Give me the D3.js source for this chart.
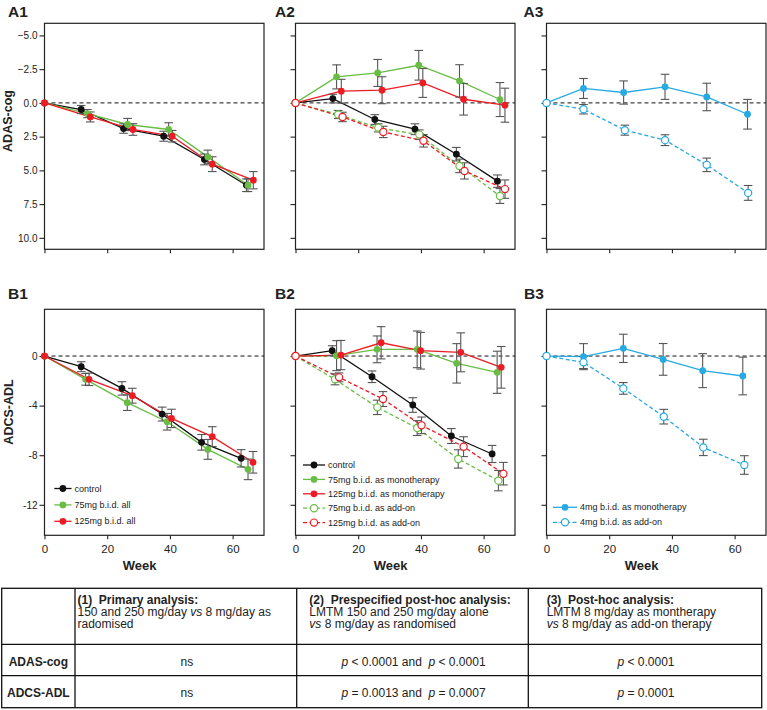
<!DOCTYPE html>
<html><head><meta charset="utf-8">
<script src="https://cdn.jsdelivr.net/npm/d3@7"></script>
<style>body{margin:0;background:#fff;} svg{display:block;font-family:"Liberation Sans",Arial,sans-serif;} text{white-space:pre;}</style>
</head><body><svg id="c" width="767" height="710"></svg>
<script>
// ---------- DATA: [week, mean change, error] ----------
const weekTicks = [0, 20, 40, 60];
const weekTickLabels = ["0", "20", "40", "60"];
const adasTicks = [-5, -2.5, 0, 2.5, 5, 7.5, 10];
const adasTickLabels = ["\u22125.0", "\u22122.5", "0.0", "2.5", "5.0", "7.5", "10.0"];
const adlTicks = [0, -4, -8, -12];
const adlTickLabels = ["0", "-4", "-8", "-12"];

const a1Control = [[0,0,0],[11.7,0.49,0.3],[25.2,1.9,0.35],[38,2.47,0.37],[51,4.19,0.4],[64.4,6.1,0.47]];
const a1Mg75All = [[0,0,0],[13.7,0.79,0.3],[26.5,1.6,0.45],[39.6,1.97,0.5],[52.1,4.0,0.5],[64.9,6.1,0.47]];
const a1Mg125All = [[0,0,0],[14.6,1.04,0.37],[28.2,1.97,0.43],[40.7,2.47,0.43],[53.5,4.54,0.55],[66.6,5.73,0.64]];

const a2Control = [[0,0,0],[11.9,-0.32,0.32],[25.3,1.23,0.36],[38.1,1.95,0.4],[51.3,3.8,0.5],[64.4,5.8,0.46]];
const a2Mg75Mono = [[0,0,0],[13.1,-1.93,0.89],[26.2,-2.22,1.0],[39.3,-2.79,1.1],[52.3,-1.63,1.2],[65.2,-0.25,1.26]];
const a2Mg125Mono = [[0,0,0],[14.6,-0.87,0.88],[27.6,-0.94,1.0],[40.6,-1.48,1.07],[53.6,-0.27,1.17],[66.8,0.17,1.26]];
const a2Mg75Add = [[0,0,0],[13.6,0.86,0.3],[26.4,1.85,0.3],[39.5,2.35,0.35],[52.3,4.67,0.5],[65.2,6.9,0.55]];
const a2Mg125Add = [[0,0,0],[15,1.04,0.35],[28,2.15,0.42],[40.8,2.81,0.46],[53.9,5.04,0.6],[66.8,6.39,0.68]];

const a3Mg4Mono = [[0,0,0],[11.8,-1.07,0.74],[24.6,-0.77,0.86],[37.8,-1.19,0.93],[51.1,-0.44,1.02],[64.1,0.84,1.1]];
const a3Mg4Add = [[0,0,0],[11.8,0.47,0.35],[25,2.02,0.37],[37.8,2.76,0.4],[51.1,4.59,0.5],[64.3,6.67,0.55]];

const b1Control = [[0,0,0],[11.7,-0.86,0.4],[24.7,-2.61,0.54],[37.5,-4.68,0.56],[50.1,-6.96,0.63],[62.7,-8.25,0.7]];
const b1Mg75All = [[0,0,0],[13.1,-1.88,0.47],[26.4,-3.76,0.63],[39.1,-5.3,0.67],[52.1,-7.53,0.8],[64.9,-9.14,0.83]];
const b1Mg125All = [[0,0,0],[14.2,-1.88,0.5],[28,-3.2,0.6],[40.5,-5.03,0.74],[53.5,-6.5,0.8],[66.5,-8.57,0.87]];

const b2Control = [[0,0,0],[11.7,0.43,0.4],[24.4,-1.67,0.47],[37.4,-3.95,0.59],[49.7,-6.45,0.6],[62.7,-7.9,0.69]];
const b2Mg75Mono = [[0,0,0],[13.1,0.03,1.21],[26,0.54,1.08],[38.8,0.54,1.48],[51.4,-0.59,1.59],[64.3,-1.31,1.7]];
const b2Mg125Mono = [[0,0,0],[14.5,0.08,1.18],[27.3,1.07,1.3],[39.9,0.43,1.48],[52.7,0.3,1.57],[65.6,-0.91,1.68]];
const b2Mg75Add = [[0,0,0],[12.6,-1.88,0.44],[26.1,-4.14,0.58],[38.8,-5.81,0.6],[51.9,-8.3,0.74],[64.7,-10.05,0.82]];
const b2Mg125Add = [[0,0,0],[13.9,-1.72,0.36],[27.9,-3.47,0.6],[40.2,-5.59,0.67],[53.6,-7.31,0.8],[66.3,-9.49,0.91]];

const b3Mg4Mono = [[0,0,0],[11.8,-0.05,1.05],[24.5,0.62,1.14],[37.2,-0.27,1.28],[49.8,-1.18,1.37],[62.6,-1.61,1.52]];
const b3Mg4Add = [[0,0,0],[11.8,-0.51,0.5],[24.5,-2.61,0.47],[37.4,-4.89,0.59],[50,-7.37,0.66],[63.1,-8.79,0.75]];

const legendB1 = ["control", "75mg b.i.d. all", "125mg b.i.d. all"];
const legendB2 = ["control", "75mg b.i.d. as monotherapy", "125mg b.i.d. as monotherapy", "75mg b.i.d. as add-on", "125mg b.i.d. as add-on"];
const legendB3 = ["4mg b.i.d. as monotherapy", "4mg b.i.d. as add-on"];

const panelLabels = ["A1","A2","A3","B1","B2","B3"];
const yTitles = ["ADAS-cog", "ADCS-ADL"];

const tableHeaderLines = [
  ["(1)  Primary analysis:", "150 and 250 mg/day vs 8 mg/day as", "radomised"],
  ["(2)  Prespecified post-hoc analysis:", "LMTM 150 and 250 mg/day alone", "vs 8 mg/day as randomised"],
  ["(3)  Post-hoc analysis:", "LMTM 8 mg/day as montherapy", "vs 8 mg/day as add-on therapy"]
];
const tableRowLabels = ["ADAS-cog", "ADCS-ADL"];
const tableValues = [
  ["ns", "p < 0.0001 and  p < 0.0001", "p < 0.0001"],
  ["ns", "p = 0.0013 and  p = 0.0007", "p = 0.0001"]
];

// ---------- STYLE ----------
const C = {black:"#111111", green:"#69bd45", red:"#ed1c24", blue:"#27aae1", err:"#555555", axis:"#222222"};
const svg = d3.select("#c");
const lefts = [44.5, 295.5, 546.5];
const PW = 219.5;
const rowA = {top:23.3, bottom:249.3};
const rowB = {top:309.3, bottom:535.3};

function panel(opts){
  const L = opts.left, T = opts.row.top, B = opts.row.bottom;
  const g = svg.append("g");
  const x = d3.scaleLinear().domain([0,70]).range([L, L+PW]);
  const y = d3.scaleLinear().domain(opts.yDomain).range([T, B]);
  // y axis
  const ya = g.append("g").attr("transform",`translate(${L},0)`)
    .call(d3.axisLeft(y).tickValues(opts.yTicks).tickSize(5).tickPadding(2)
      .tickFormat((d,i)=> opts.yLabels ? opts.yTickLabels[i] : ""));
  ya.select(".domain").remove();
  ya.selectAll("line").attr("stroke",C.axis).attr("stroke-width",1.1);
  ya.selectAll("text").attr("font-size",10).attr("fill","#222").attr("font-family",'"Liberation Sans",Arial,sans-serif');
  // x axis
  const xa = g.append("g").attr("transform",`translate(0,${B})`)
    .call(d3.axisBottom(x).tickValues(weekTicks).tickSize(4).tickPadding(6)
      .tickFormat((d,i)=> opts.xLabels ? weekTickLabels[i] : ""));
  xa.select(".domain").remove();
  xa.selectAll("line").attr("stroke",C.axis).attr("stroke-width",1.1);
  xa.selectAll("text").attr("font-size",11.5).attr("fill","#222").attr("font-family",'"Liberation Sans",Arial,sans-serif');
  // frame
  g.append("rect").attr("x",L).attr("y",T).attr("width",PW).attr("height",B-T)
    .attr("fill","none").attr("stroke",C.axis).attr("stroke-width",1.2);
  // zero line
  g.append("line").attr("x1",x(0)).attr("x2",x(70)).attr("y1",y(0)).attr("y2",y(0))
    .attr("stroke","#111").attr("stroke-width",1).attr("stroke-dasharray","4,3");
  if (opts.xLabels){
    g.append("text").attr("x",x(30)+1).attr("y",570).attr("text-anchor","middle")
      .attr("font-size",13).attr("font-weight","bold").attr("fill","#222").text("Week");
  }
  const line = d3.line().x(d=>x(d[0])).y(d=>y(d[1]));
  opts.series.forEach(s=>{
    g.append("path").datum(s.data).attr("d",line).attr("fill","none")
      .attr("stroke",s.color).attr("stroke-width",1.3)
      .attr("stroke-dasharray", s.open ? "4,2.5" : null);
  });
  opts.series.forEach(s=>{
    const eb = g.append("g").attr("stroke",C.err).attr("stroke-width",1.1);
    s.data.filter(d=>d[2]>0).forEach(d=>{
      const cx = x(d[0]);
      eb.append("line").attr("x1",cx).attr("x2",cx).attr("y1",y(d[1]-d[2])).attr("y2",y(d[1]+d[2]));
      [d[1]-d[2], d[1]+d[2]].forEach(v=>{
        eb.append("line").attr("x1",cx-4.3).attr("x2",cx+4.3).attr("y1",y(v)).attr("y2",y(v));
      });
    });
  });
  opts.series.forEach(s=>{
    g.selectAll(null).data(s.data).enter().append("circle")
      .attr("cx",d=>x(d[0])).attr("cy",d=>y(d[1]))
      .attr("r", s.open ? 3.6 : 3.4)
      .attr("fill", s.open ? "#fff" : s.color)
      .attr("stroke", s.open ? s.color : "none").attr("stroke-width",1.2);
  });
  if (opts.legend){
    const lg = opts.legend;
    lg.names.forEach((name,i)=>{
      const s = opts.series[i];
      const yy = lg.y0 + i*lg.dy;
      g.append("line").attr("x1",lg.x0).attr("x2",lg.x1).attr("y1",yy).attr("y2",yy)
        .attr("stroke",s.color).attr("stroke-width",1.3).attr("stroke-dasharray", s.open ? "4,2.5" : null);
      g.append("circle").attr("cx",(lg.x0+lg.x1)/2).attr("cy",yy).attr("r", s.open?3.6:3.4)
        .attr("fill", s.open ? "#fff" : s.color).attr("stroke", s.open ? s.color : "none").attr("stroke-width",1.2);
      g.append("text").attr("x",lg.x1+3).attr("y",yy).attr("dy","0.35em").attr("font-size",9)
        .attr("fill","#222").text(name);
    });
  }
}

const adasDomain = [-5.9, 10.85];
const adlDomain = [3.77, -14.46];

panel({left:lefts[0], row:rowA, yDomain:adasDomain, yTicks:adasTicks, yTickLabels:adasTickLabels, yLabels:true, xLabels:false,
  series:[{data:a1Control,color:C.black},{data:a1Mg75All,color:C.green},{data:a1Mg125All,color:C.red}]});
panel({left:lefts[1], row:rowA, yDomain:adasDomain, yTicks:adasTicks, yTickLabels:adasTickLabels, yLabels:false, xLabels:false,
  series:[{data:a2Control,color:C.black},{data:a2Mg75Mono,color:C.green},{data:a2Mg125Mono,color:C.red},
          {data:a2Mg75Add,color:C.green,open:true},{data:a2Mg125Add,color:C.red,open:true}]});
panel({left:lefts[2], row:rowA, yDomain:adasDomain, yTicks:adasTicks, yTickLabels:adasTickLabels, yLabels:false, xLabels:false,
  series:[{data:a3Mg4Mono,color:C.blue},{data:a3Mg4Add,color:C.blue,open:true}]});

panel({left:lefts[0], row:rowB, yDomain:adlDomain, yTicks:adlTicks, yTickLabels:adlTickLabels, yLabels:true, xLabels:true,
  series:[{data:b1Control,color:C.black},{data:b1Mg75All,color:C.green},{data:b1Mg125All,color:C.red}],
  legend:{names:legendB1, x0:54.3, x1:71.5, y0:488.5, dy:16.4}});
panel({left:lefts[1], row:rowB, yDomain:adlDomain, yTicks:adlTicks, yTickLabels:adlTickLabels, yLabels:false, xLabels:true,
  series:[{data:b2Control,color:C.black},{data:b2Mg75Mono,color:C.green},{data:b2Mg125Mono,color:C.red},
          {data:b2Mg75Add,color:C.green,open:true},{data:b2Mg125Add,color:C.red,open:true}],
  legend:{names:legendB2, x0:303, x1:325, y0:465, dy:14.4}});
panel({left:lefts[2], row:rowB, yDomain:adlDomain, yTicks:adlTicks, yTickLabels:adlTickLabels, yLabels:false, xLabels:true,
  series:[{data:b3Mg4Mono,color:C.blue},{data:b3Mg4Add,color:C.blue,open:true}],
  legend:{names:legendB3, x0:553, x1:577, y0:507.3, dy:15}});

// panel labels
const labelPos = [[8,16.5],[275,16.5],[523.5,16.5],[8,299],[275,299],[524,299]];
panelLabels.forEach((t,i)=>{
  svg.append("text").attr("x",labelPos[i][0]).attr("y",labelPos[i][1]).attr("font-size",15.5)
    .attr("font-weight","bold").attr("fill","#222").text(t);
});
// y titles
[[11.5,121],[12.5,412]].forEach((p,i)=>{
  svg.append("text").attr("transform",`translate(${p[0]},${p[1]}) rotate(-90)`).attr("text-anchor","middle")
    .attr("font-size",12.5).attr("font-weight","bold").attr("fill","#222").text(yTitles[i]);
});

// ---------- TABLE ----------
const tb = svg.append("g");
const tX = [1.7, 75, 296.7, 528.3, 761.7];
const tY = [588.3, 644.3, 675.7, 707.7];
tb.append("rect").attr("x",tX[0]).attr("y",tY[0]).attr("width",tX[4]-tX[0]).attr("height",tY[3]-tY[0])
  .attr("fill","none").attr("stroke","#111").attr("stroke-width",1.3);
[tX[1],tX[2],tX[3]].forEach(xx=>tb.append("line").attr("x1",xx).attr("x2",xx).attr("y1",tY[0]).attr("y2",tY[3]).attr("stroke","#111").attr("stroke-width",1.3));
[tY[1],tY[2]].forEach(yy=>tb.append("line").attr("x1",tX[0]).attr("x2",tX[4]).attr("y1",yy).attr("y2",yy).attr("stroke","#111").attr("stroke-width",1.3));

function richText(sel, str){
  str.split(/(\bvs\b|\bp\b)/).forEach(part=>{
    if (!part) return;
    const t = sel.append("tspan").text(part);
    if (part==="vs" || part==="p") t.attr("font-style","italic");
  });
}
const colTextX = [77.5, 309.3, 546.7];
const headBase = [604, 616, 628];
tableHeaderLines.forEach((lines,ci)=>{
  lines.forEach((ln,li)=>{
    const t = tb.append("text").attr("x",colTextX[ci]).attr("y",headBase[li]).attr("font-size",12)
      .attr("fill","#222").attr("font-weight", li===0 ? "bold" : null);
    richText(t, ln);
  });
});
const rowBase = [666, 696.5];
tableRowLabels.forEach((lab,ri)=>{
  tb.append("text").attr("x",(tX[0]+tX[1])/2).attr("y",rowBase[ri]).attr("text-anchor","middle")
    .attr("font-size",12).attr("font-weight","bold").attr("fill","#222").text(lab);
  tableValues[ri].forEach((v,ci)=>{
    const t = tb.append("text").attr("x",(tX[ci+1]+tX[ci+2])/2 + 1).attr("y",rowBase[ri])
      .attr("text-anchor","middle").attr("font-size",12).attr("fill","#222");
    richText(t, v);
  });
});
</script></body></html>
